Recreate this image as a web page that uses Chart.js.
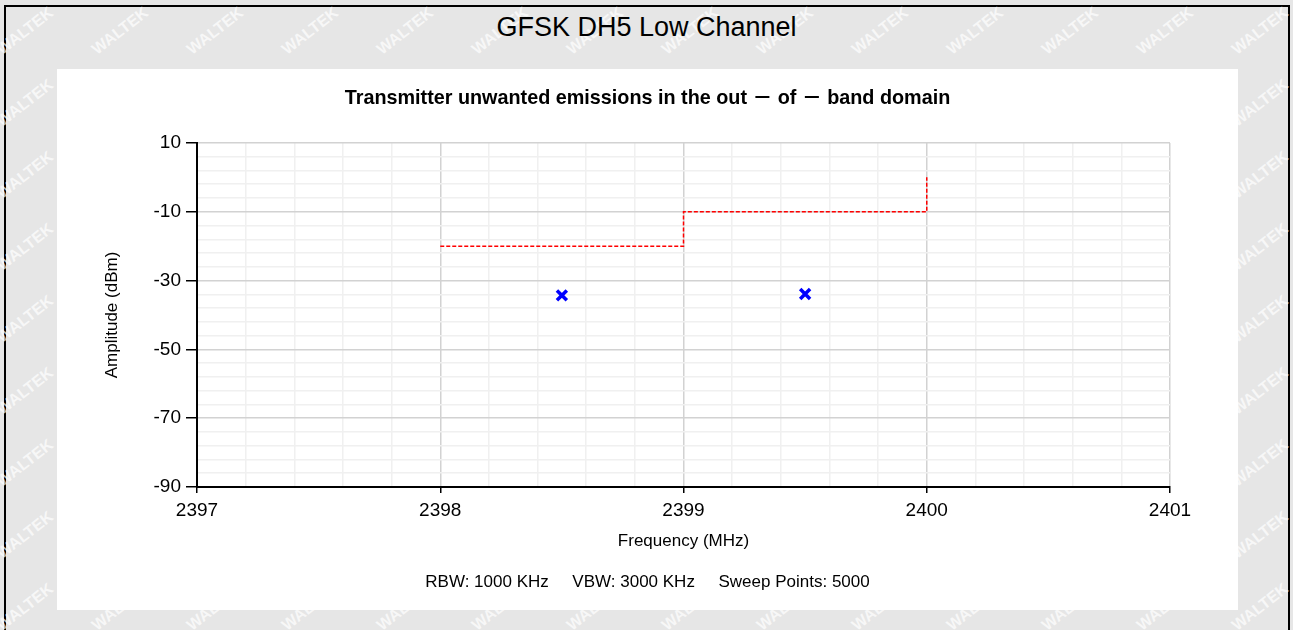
<!DOCTYPE html>
<html>
<head>
<meta charset="utf-8">
<script src="https://cdn.jsdelivr.net/npm/chart.js@4.4.1/dist/chart.umd.min.js"></script>
<style>
  html, body { margin: 0; padding: 0; }
  body {
    width: 1293px; height: 630px; overflow: hidden; position: relative;
    background: #e6e6e6; font-family: Arial, "Liberation Sans", sans-serif;
  }
  .frame {
    position: absolute; left: 4px; top: 5px; width: 1286px; height: 660px;
    border: 2px solid #000; box-sizing: border-box;
  }
  .mark {
    position: absolute; color: rgba(255, 255, 255, 0.7); font-weight: bold;
    font-size: 16px; transform: rotate(-38deg); white-space: nowrap;
  }
  .heading {
    position: absolute; left: 0; width: 1293px; top: 12px; text-align: center;
    font-size: 27px; color: #000; z-index: 2;
  }
  .panel {
    position: absolute; left: 57px; top: 69px; width: 1181px; height: 541px;
    background: #fff; z-index: 2;
  }
</style>
</head>
<body>
<div class="frame"></div>
<div class="heading">GFSK DH5 Low Channel</div>
<div class="panel"><canvas id="chart" width="1181" height="541"></canvas></div>

<script>
// tick labels
const freqLabels = [2397, 2398, 2399, 2400, 2401];
const ampLabels = [10, -10, -30, -50, -70, -90];

// limit line (red, dashed)
const limitFreq = [2398, 2399, 2399, 2400, 2400];
const limitLevel = [-20, -20, -10, -10, 0];

// measured peaks (blue x)
const peakFreq = [2398.5, 2399.5];
const peakLevel = [-34.3, -33.9];

// background watermark
const addMarks = function () {
    for (let row = 0; row < 10; row++) {
        for (let col = 0; col < 15; col++) {
            const el = document.createElement('span');
            el.className = 'mark';
            el.textContent = 'WALTEK';
            el.style.left = (col * 95 - 8) + 'px';
            el.style.top = (row * 72 + 22) + 'px';
            document.body.appendChild(el);
        }
    }
};

const isLabelled = (list, v) => list.some(t => Math.abs(t - v) < 1e-6);

const createChart = function () {
    Chart.defaults.font.family = 'Arial, "Liberation Sans", "Noto Sans CJK SC", sans-serif';
    Chart.defaults.color = '#000';

    const data = {
        datasets: [
            {
                label: 'Limit',
                data: limitFreq.map((f, i) => ({ x: f, y: limitLevel[i] })),
                showLine: true,
                borderColor: '#ff0000',
                borderWidth: 1.5,
                borderDash: [4, 2],
                pointRadius: 0,
                fill: false,
            },
            {
                label: 'Peak',
                data: peakFreq.map((f, i) => ({ x: f, y: peakLevel[i] })),
                showLine: false,
                pointStyle: 'crossRot',
                pointRadius: 7,
                borderWidth: 3.5,
                borderColor: '#0000ff',
                backgroundColor: '#0000ff',
            },
        ],
    };

    const config = {
        type: 'scatter',
        data: data,
        options: {
            responsive: false,
            animation: false,
            devicePixelRatio: 1,
            layout: { padding: 0 },
            plugins: {
                legend: { display: false },
                tooltip: { enabled: false },
                title: {
                    display: true,
                    text: 'Transmitter unwanted emissions in the out － of － band domain',
                    font: { size: 19.8, weight: 'bold' },
                    padding: { top: 18.1, bottom: 32.1 },
                },
                subtitle: {
                    display: true,
                    position: 'bottom',
                    text: 'RBW: 1000 KHz\u00a0\u00a0\u00a0\u00a0\u00a0VBW: 3000 KHz\u00a0\u00a0\u00a0\u00a0\u00a0Sweep Points: 5000',
                    font: { size: 17 },
                    padding: { top: 4, bottom: 17.8 },
                },
            },
            scales: {
                x: {
                    type: 'linear',
                    min: freqLabels[0],
                    max: freqLabels[freqLabels.length - 1],
                    afterFit: (scale) => { scale.height = 80.8; },
                    ticks: {
                        stepSize: 0.2,
                        autoSkip: false,
                        maxRotation: 0,
                        padding: 6,
                        font: { size: 19 },
                        callback: (v) => (isLabelled(freqLabels, v) ? String(Math.round(v)) : ''),
                    },
                    grid: {
                        color: (ctx) => (ctx.tick && isLabelled(freqLabels, ctx.tick.value) ? '#d2d2d2' : '#f0f0f0'),
                        tickColor: (ctx) => (ctx.tick && isLabelled(freqLabels, ctx.tick.value) ? '#000' : 'rgba(0,0,0,0)'),
                        lineWidth: 1.5,
                        tickLength: 6,
                    },
                    border: { color: '#000', width: 2 },
                    title: {
                        display: true,
                        text: 'Frequency (MHz)',
                        font: { size: 17 },
                        padding: { top: 0, bottom: 16.6 },
                    },
                },
                y: {
                    type: 'linear',
                    min: ampLabels[ampLabels.length - 1],
                    max: ampLabels[0],
                    afterFit: (scale) => { scale.width = 140; },
                    ticks: {
                        stepSize: 4,
                        autoSkip: false,
                        padding: 5,
                        font: { size: 19 },
                        callback: (v) => (isLabelled(ampLabels, v) ? String(Math.round(v)) : ''),
                    },
                    grid: {
                        color: (ctx) => (ctx.tick && isLabelled(ampLabels, ctx.tick.value) ? '#d2d2d2' : '#f0f0f0'),
                        tickColor: (ctx) => (ctx.tick && isLabelled(ampLabels, ctx.tick.value) ? '#000' : 'rgba(0,0,0,0)'),
                        lineWidth: 1.5,
                        tickLength: 11,
                    },
                    border: { color: '#000', width: 2 },
                    title: {
                        display: true,
                        text: 'Amplitude (dBm)',
                        font: { size: 17 },
                        padding: { top: 44.8, bottom: 0 },
                    },
                },
                // empty right-hand margin so the titles stay centred on the panel
                yRight: {
                    type: 'linear',
                    position: 'right',
                    min: ampLabels[ampLabels.length - 1],
                    max: ampLabels[0],
                    afterFit: (scale) => { scale.width = 68; },
                    ticks: { display: false },
                    grid: { display: false },
                    border: { display: false },
                },
            },
        },
    };

    const ctx = document.querySelector('#chart');
    new Chart(ctx, config);
};

const init = function () {
    addMarks();
    createChart();
};

document.addEventListener('DOMContentLoaded', init);
</script>
</body>
</html>
